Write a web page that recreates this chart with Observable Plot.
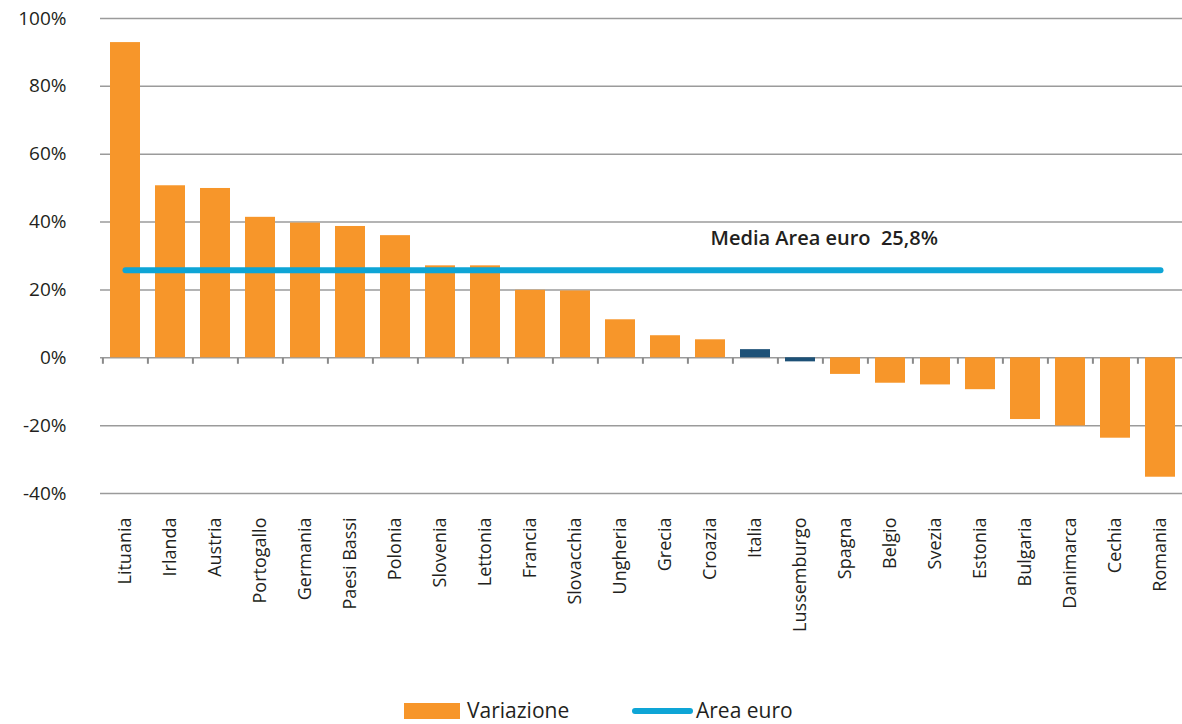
<!DOCTYPE html>
<html>
<head>
<meta charset="utf-8">
<script src="https://cdn.jsdelivr.net/npm/d3@7"></script>
<script src="https://cdn.jsdelivr.net/npm/@observablehq/plot@0.6"></script>
<style>
  html, body { margin: 0; padding: 0; background: #fff; }
  body { width: 1182px; height: 724px; overflow: hidden; font-family: "Open Sans", sans-serif; color: #231f20; }
  #chart svg { display: block; overflow: visible; }
  #legend { position: relative; height: 34px; font-size: 21px; color: #231f20; }
  #legend .sw { position: absolute; left: 404px; top: 13px; width: 56px; height: 16px; background: #F7962A; }
  #legend .t1 { position: absolute; left: 467px; top: 6px; }
  #legend .ln { position: absolute; left: 632px; top: 18px; width: 61px; height: 6px; border-radius: 3px; background: #0EA5D6; }
  #legend .t2 { position: absolute; left: 696px; top: 6px; }
</style>
</head>
<body>
<div id="chart"></div>
<div id="legend"><div class="sw"></div><span class="t1">Variazione</span><div class="ln"></div><span class="t2">Area euro</span></div>
<script>
const countries = ["Lituania","Irlanda","Austria","Portogallo","Germania","Paesi Bassi","Polonia","Slovenia","Lettonia","Francia","Slovacchia","Ungheria","Grecia","Croazia","Italia","Lussemburgo","Spagna","Belgio","Svezia","Estonia","Bulgaria","Danimarca","Cechia","Romania"];
const variazione = [92.9, 50.7, 49.9, 41.4, 39.7, 38.7, 36.0, 27.1, 27.1, 19.9, 19.7, 11.2, 6.5, 5.3, 2.4, -1.2, -4.9, -7.5, -8.0, -9.4, -18.2, -20.1, -23.7, -35.2];
const highlighted = ["Italia", "Lussemburgo"];
const mediaAreaEuro = 25.8;
const mediaLabel = "Media Area euro  25,8%";
const yTicks = [-40, -20, 0, 20, 40, 60, 80, 100];

const data = countries.map((c, i) => ({country: c, value: variazione[i], hl: highlighted.includes(c)}));
const mediaLine = [{country: countries[0], value: mediaAreaEuro}, {country: countries[countries.length - 1], value: mediaAreaEuro}];

const W = 1182, H = 690, mL = 100, mR = -3, mT = 18, mB = 197;
const step = (W - mL - mR) / countries.length;

const tickSymbol = { draw(ctx, size) { ctx.moveTo(0, 0); ctx.lineTo(0, 6); } };

const chart = Plot.plot({
  width: W, height: H,
  marginLeft: mL, marginRight: mR, marginTop: mT, marginBottom: mB,
  style: { fontFamily: "'Open Sans', sans-serif", background: "transparent", overflow: "visible" },
  x: { domain: countries, paddingInner: 0.336, paddingOuter: 0.168, label: null },
  y: { domain: [-40, 100], label: null },
  marks: [
    Plot.ruleY(yTicks, { stroke: "#9b9b9b", strokeWidth: 1.5 }),
    Plot.barY(data, { x: "country", y: "value", fill: d => d.hl ? "#1D5177" : "#F7962A" }),
    Plot.dot(countries, { x: d => d, y: () => 0, dx: -step / 2, symbol: tickSymbol, stroke: "#8a8a8a", strokeWidth: 2, fill: "none", r: 3 }),
    Plot.lineY(mediaLine, { x: "country", y: "value", stroke: "#0EA5D6", strokeWidth: 6, strokeLinecap: "round" }),
    Plot.text([mediaLabel], { x: () => countries[13], y: () => 35, text: d => d, textAnchor: "start", fontSize: 20, fontWeight: 600, fill: "#231f20" }),
    Plot.axisY({ ticks: yTicks, tickSize: 0, tickPadding: 34, tickFormat: d => d + "%", fontSize: 19, fill: "#231f20" }),
    Plot.axisX({ tickSize: 0, tickPadding: 24, tickRotate: -90, fontSize: 18, fill: "#231f20" })
  ]
});
document.getElementById("chart").appendChild(chart);
</script>
</body>
</html>
